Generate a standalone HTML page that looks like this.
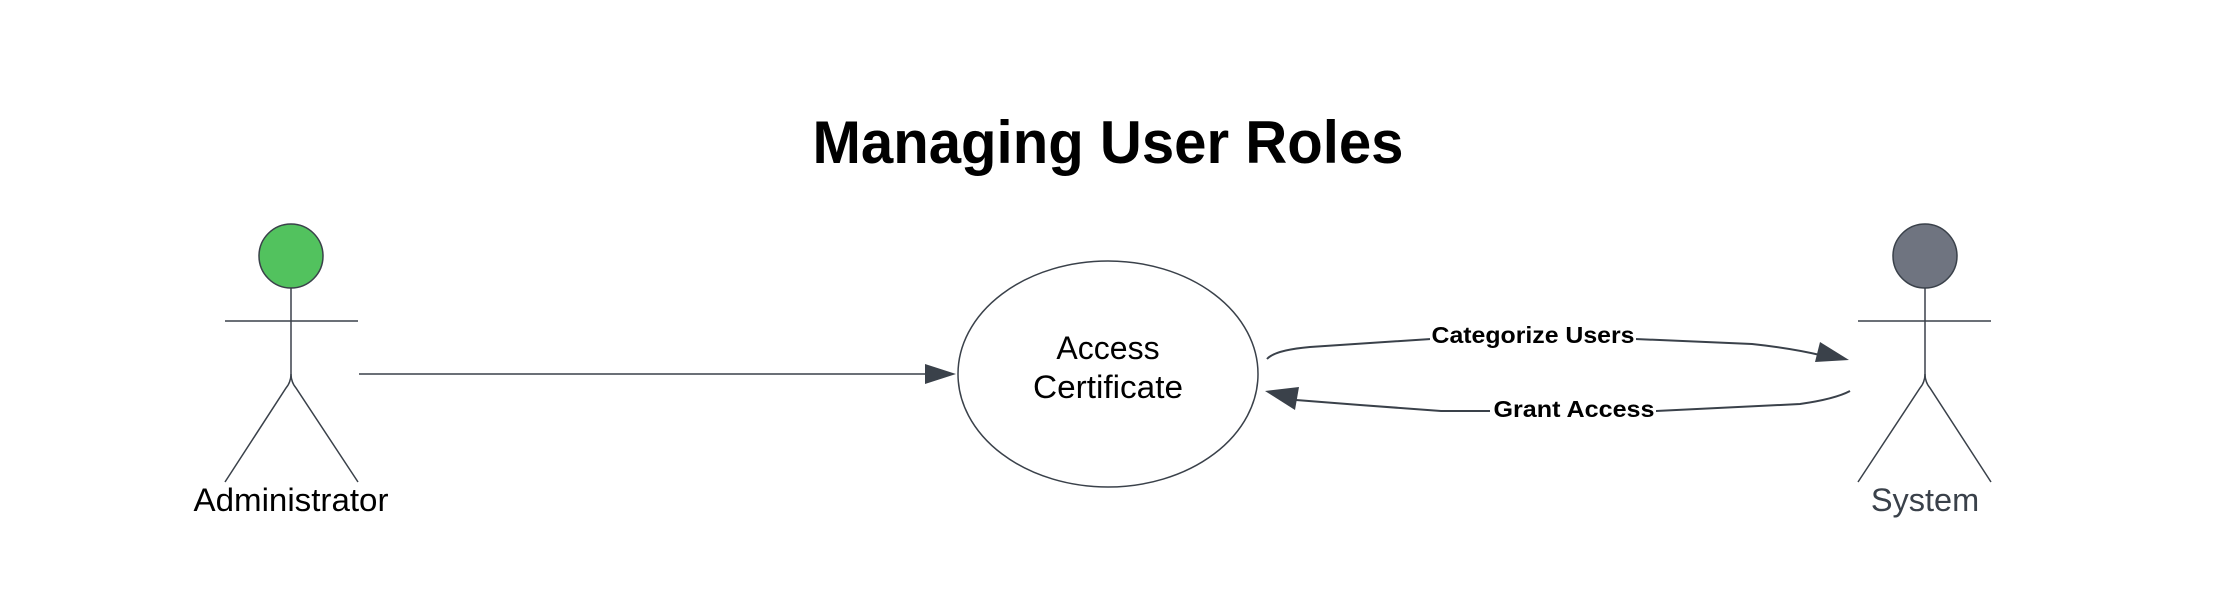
<!DOCTYPE html>
<html><head><meta charset="utf-8"><style>
html,body{margin:0;padding:0;background:#fff;}
svg{display:block;}
text{font-family:"Liberation Sans",Arial,sans-serif;}
</style></head><body>
<svg width="2216" height="600" viewBox="0 0 2216 600" xmlns="http://www.w3.org/2000/svg">
<rect width="2216" height="600" fill="#fff"/>
<text x="1108" y="163" font-size="60" font-weight="bold" text-anchor="middle" fill="#000" textLength="591" lengthAdjust="spacingAndGlyphs">Managing User Roles</text>

<g stroke="#3a414a" stroke-width="1.5" fill="none">
<circle cx="291" cy="256" r="32" fill="#52c25e"/>
<line x1="291" y1="288" x2="291" y2="374"/>
<line x1="225" y1="321" x2="358" y2="321"/>
<path d="M291 374 Q291 382 286 388 L225 482"/>
<path d="M291 374 Q291 382 296 388 L358 482"/>
</g>
<text x="291" y="511" font-size="32.5" text-anchor="middle" fill="#000" textLength="195" lengthAdjust="spacingAndGlyphs">Administrator</text>

<g stroke="#3a414a" stroke-width="1.5" fill="none">
<circle cx="1925" cy="256" r="32" fill="#6f7480"/>
<line x1="1925" y1="288" x2="1925" y2="374"/>
<line x1="1858" y1="321" x2="1991" y2="321"/>
<path d="M1925 374 Q1925 382 1920 388 L1858 482"/>
<path d="M1925 374 Q1925 382 1930 388 L1991 482"/>
</g>
<text x="1925" y="511" font-size="32.5" text-anchor="middle" fill="#3a414a">System</text>

<ellipse cx="1108" cy="374" rx="150" ry="113" fill="#fff" stroke="#3a414a" stroke-width="1.5"/>
<text x="1108" y="359" font-size="32" text-anchor="middle" fill="#000">Access</text>
<text x="1108" y="398" font-size="32" text-anchor="middle" fill="#000" textLength="150" lengthAdjust="spacingAndGlyphs">Certificate</text>

<line x1="359" y1="374" x2="928" y2="374" stroke="#3a414a" stroke-width="1.5"/>
<polygon points="956,374 925,364 925,384" fill="#3a414a"/>

<path d="M1267 359 Q1275 350 1310 347 L1431 339 L1635 339 L1752 344 Q1790 348 1820 355" fill="none" stroke="#3a414a" stroke-width="2"/>
<polygon points="1849,360 1820,342 1815,362" fill="#3a414a"/>
<rect x="1430" y="320" width="206" height="30" fill="#fff"/>
<text x="1533" y="343" font-size="23" font-weight="bold" text-anchor="middle" fill="#000" textLength="203" lengthAdjust="spacingAndGlyphs">Categorize Users</text>

<path d="M1850 391 Q1835 399 1800 404 L1656 411 L1441 411 L1360 405 L1296 400" fill="none" stroke="#3a414a" stroke-width="2"/>
<polygon points="1265,391 1299,387 1295,410" fill="#3a414a"/>
<rect x="1490" y="395" width="166" height="30" fill="#fff"/>
<text x="1574" y="417" font-size="23" font-weight="bold" text-anchor="middle" fill="#000" textLength="161" lengthAdjust="spacingAndGlyphs">Grant Access</text>
</svg>
</body></html>
